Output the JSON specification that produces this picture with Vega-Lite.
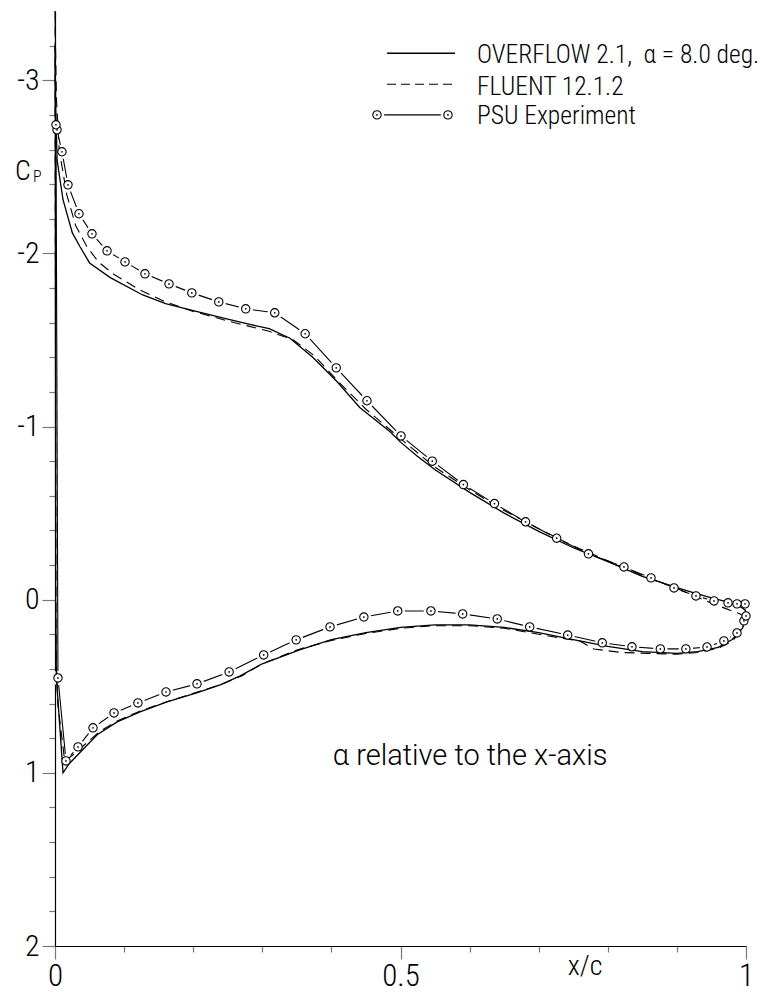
{
  "$schema": "https://vega.github.io/schema/vega-lite/v6.json",
  "width": 691,
  "height": 935,
  "autosize": {"type": "none"},
  "padding": {"left": 55, "top": 11, "right": 24, "bottom": 46},
  "background": "white",
  "config": {"view": {"stroke": null}, "font": "Roboto Condensed", "text": {"font": "Roboto Condensed"}},
  "datasets": {
    "overflow": [
      {"o":1,"x":1.0,"y":0.10},{"o":2,"x":0.999,"y":0.06},{"o":3,"x":0.99,"y":0.035},{"o":4,"x":0.97,"y":0.01},{"o":5,"x":0.95,"y":-0.01},{"o":6,"x":0.92,"y":-0.045},{"o":7,"x":0.9,"y":-0.07},{"o":8,"x":0.85,"y":-0.135},{"o":9,"x":0.8,"y":-0.22},{"o":10,"x":0.75,"y":-0.3},{"o":11,"x":0.7,"y":-0.395},{"o":12,"x":0.65,"y":-0.5},{"o":13,"x":0.6,"y":-0.62},{"o":14,"x":0.55,"y":-0.75},{"o":15,"x":0.524,"y":-0.83},{"o":16,"x":0.5,"y":-0.91},{"o":17,"x":0.485,"y":-0.97},{"o":18,"x":0.441,"y":-1.11},{"o":19,"x":0.408,"y":-1.26},{"o":20,"x":0.373,"y":-1.4},{"o":21,"x":0.34,"y":-1.51},{"o":22,"x":0.31,"y":-1.565},{"o":23,"x":0.282,"y":-1.59},{"o":24,"x":0.25,"y":-1.62},{"o":25,"x":0.2,"y":-1.67},{"o":26,"x":0.16,"y":-1.71},{"o":27,"x":0.127,"y":-1.76},{"o":28,"x":0.08,"y":-1.86},{"o":29,"x":0.05,"y":-1.945},{"o":30,"x":0.036,"y":-2.04},{"o":31,"x":0.025,"y":-2.12},{"o":32,"x":0.0116,"y":-2.31},{"o":33,"x":0.003,"y":-2.54},{"o":34,"x":0.001,"y":-2.85},{"o":35,"x":0.0,"y":-3.2},{"o":36,"x":0.0005,"y":-2.6},{"o":37,"x":0.001,"y":0.0},{"o":38,"x":0.002,"y":0.45},{"o":39,"x":0.0116,"y":1.0},{"o":40,"x":0.02,"y":0.95},{"o":41,"x":0.04,"y":0.867},{"o":42,"x":0.061,"y":0.78},{"o":43,"x":0.09,"y":0.706},{"o":44,"x":0.123,"y":0.648},{"o":45,"x":0.162,"y":0.59},{"o":46,"x":0.205,"y":0.538},{"o":47,"x":0.24,"y":0.49},{"o":48,"x":0.268,"y":0.44},{"o":49,"x":0.3,"y":0.37},{"o":50,"x":0.354,"y":0.29},{"o":51,"x":0.4,"y":0.23},{"o":52,"x":0.45,"y":0.19},{"o":53,"x":0.5,"y":0.16},{"o":54,"x":0.55,"y":0.145},{"o":55,"x":0.6,"y":0.145},{"o":56,"x":0.65,"y":0.16},{"o":57,"x":0.7,"y":0.19},{"o":58,"x":0.75,"y":0.23},{"o":59,"x":0.8,"y":0.27},{"o":60,"x":0.85,"y":0.3},{"o":61,"x":0.9,"y":0.31},{"o":62,"x":0.93,"y":0.3},{"o":63,"x":0.96,"y":0.275},{"o":64,"x":0.98,"y":0.23},{"o":65,"x":0.995,"y":0.165},{"o":66,"x":1.0,"y":0.1}
    ],
    "fluent": [
      {"o":1,"x":1.0,"y":0.10},{"o":2,"x":0.99,"y":0.08},{"o":3,"x":0.97,"y":0.05},{"o":4,"x":0.95,"y":0.02},{"o":5,"x":0.92,"y":-0.03},{"o":6,"x":0.9,"y":-0.065},{"o":7,"x":0.85,"y":-0.14},{"o":8,"x":0.8,"y":-0.225},{"o":9,"x":0.75,"y":-0.31},{"o":10,"x":0.7,"y":-0.41},{"o":11,"x":0.65,"y":-0.515},{"o":12,"x":0.6,"y":-0.635},{"o":13,"x":0.55,"y":-0.765},{"o":14,"x":0.5,"y":-0.93},{"o":15,"x":0.45,"y":-1.1},{"o":16,"x":0.41,"y":-1.26},{"o":17,"x":0.375,"y":-1.41},{"o":18,"x":0.345,"y":-1.5},{"o":19,"x":0.31,"y":-1.55},{"o":20,"x":0.28,"y":-1.58},{"o":21,"x":0.25,"y":-1.61},{"o":22,"x":0.2,"y":-1.665},{"o":23,"x":0.16,"y":-1.72},{"o":24,"x":0.12,"y":-1.795},{"o":25,"x":0.085,"y":-1.88},{"o":26,"x":0.063,"y":-1.95},{"o":27,"x":0.046,"y":-2.04},{"o":28,"x":0.03,"y":-2.16},{"o":29,"x":0.017,"y":-2.34},{"o":30,"x":0.006,"y":-2.6},{"o":31,"x":0.002,"y":-2.9},{"o":32,"x":0.0,"y":-3.4},{"o":33,"x":0.0015,"y":0.3},{"o":34,"x":0.004,"y":0.6},{"o":35,"x":0.014,"y":0.93},{"o":36,"x":0.025,"y":0.9},{"o":37,"x":0.045,"y":0.83},{"o":38,"x":0.065,"y":0.76},{"o":39,"x":0.09,"y":0.7},{"o":40,"x":0.125,"y":0.64},{"o":41,"x":0.165,"y":0.585},{"o":42,"x":0.205,"y":0.535},{"o":43,"x":0.24,"y":0.49},{"o":44,"x":0.27,"y":0.44},{"o":45,"x":0.3,"y":0.37},{"o":46,"x":0.35,"y":0.29},{"o":47,"x":0.4,"y":0.235},{"o":48,"x":0.45,"y":0.195},{"o":49,"x":0.5,"y":0.165},{"o":50,"x":0.55,"y":0.15},{"o":51,"x":0.6,"y":0.15},{"o":52,"x":0.65,"y":0.165},{"o":53,"x":0.7,"y":0.2},{"o":54,"x":0.76,"y":0.24},{"o":55,"x":0.78,"y":0.285},{"o":56,"x":0.82,"y":0.305},{"o":57,"x":0.86,"y":0.31},{"o":58,"x":0.9,"y":0.315},{"o":59,"x":0.93,"y":0.305},{"o":60,"x":0.96,"y":0.28},{"o":61,"x":0.98,"y":0.24},{"o":62,"x":0.995,"y":0.17},{"o":63,"x":1.0,"y":0.1}
    ],
    "psu": [
      {"o":1,"x":0.9986,"y":0.024},{"o":2,"x":0.987,"y":0.024},{"o":3,"x":0.974,"y":0.018},{"o":4,"x":0.9537,"y":0.007},{"o":5,"x":0.9276,"y":-0.022},{"o":6,"x":0.8958,"y":-0.068},{"o":7,"x":0.8625,"y":-0.126},{"o":8,"x":0.8234,"y":-0.189},{"o":9,"x":0.772,"y":-0.265},{"o":10,"x":0.726,"y":-0.355},{"o":11,"x":0.681,"y":-0.45},{"o":12,"x":0.636,"y":-0.555},{"o":13,"x":0.591,"y":-0.665},{"o":14,"x":0.546,"y":-0.8},{"o":15,"x":0.5007,"y":-0.946},{"o":16,"x":0.4515,"y":-1.149},{"o":17,"x":0.407,"y":-1.339},{"o":18,"x":0.362,"y":-1.536},{"o":19,"x":0.318,"y":-1.657},{"o":20,"x":0.276,"y":-1.68},{"o":21,"x":0.237,"y":-1.72},{"o":22,"x":0.198,"y":-1.772},{"o":23,"x":0.165,"y":-1.824},{"o":24,"x":0.1302,"y":-1.882},{"o":25,"x":0.1013,"y":-1.951},{"o":26,"x":0.0753,"y":-2.015},{"o":27,"x":0.0535,"y":-2.113},{"o":28,"x":0.0347,"y":-2.229},{"o":29,"x":0.0188,"y":-2.396},{"o":30,"x":0.0101,"y":-2.587},{"o":31,"x":0.0029,"y":-2.714},{"o":32,"x":0.0014,"y":-2.743},{"o":33,"x":0.0043,"y":0.452},{"o":34,"x":0.0159,"y":0.931},{"o":35,"x":0.0333,"y":0.85},{"o":36,"x":0.055,"y":0.74},{"o":37,"x":0.0854,"y":0.654},{"o":38,"x":0.12,"y":0.596},{"o":39,"x":0.1606,"y":0.533},{"o":40,"x":0.2055,"y":0.486},{"o":41,"x":0.252,"y":0.417},{"o":42,"x":0.302,"y":0.319},{"o":43,"x":0.349,"y":0.232},{"o":44,"x":0.398,"y":0.157},{"o":45,"x":0.447,"y":0.1},{"o":46,"x":0.496,"y":0.065},{"o":47,"x":0.544,"y":0.065},{"o":48,"x":0.59,"y":0.082},{"o":49,"x":0.64,"y":0.111},{"o":50,"x":0.687,"y":0.157},{"o":51,"x":0.742,"y":0.204},{"o":52,"x":0.792,"y":0.249},{"o":53,"x":0.835,"y":0.272},{"o":54,"x":0.876,"y":0.284},{"o":55,"x":0.913,"y":0.284},{"o":56,"x":0.9436,"y":0.273},{"o":57,"x":0.968,"y":0.238},{"o":58,"x":0.987,"y":0.192},{"o":59,"x":0.997,"y":0.122},{"o":60,"x":1.0,"y":0.094}
    ],
    "legline": [
      {"s":"ov","o":1,"x":0.4805,"y":-3.156},{"s":"ov","o":2,"x":0.5789,"y":-3.156},
      {"s":"fl","o":1,"x":0.4805,"y":-2.977},{"s":"fl","o":2,"x":0.5789,"y":-2.977},
      {"s":"psu","o":1,"x":0.466,"y":-2.8},{"s":"psu","o":2,"x":0.5687,"y":-2.8}
    ],
    "legpts": [
      {"x":0.466,"y":-2.8},{"x":0.5687,"y":-2.8}
    ],
    "legtext": [
      {"x":0.6107,"y":-3.1,"t":"OVERFLOW 2.1,\u00a0 α = 8.0 deg."},
      {"x":0.6107,"y":-2.915,"t":"FLUENT 12.1.2"},
      {"x":0.6107,"y":-2.747,"t":"PSU Experiment"}
    ],
    "annot": [
      {"x":0.402,"y":0.955,"t":"α  relative to the x-axis"}
    ],
    "big": [
      {"x":-0.0579,"y":-2.424,"t":"C"},
      {"x":0.742,"y":2.168,"t":"x/c"}
    ],
    "sub": [
      {"x":-0.0318,"y":-2.413,"t":"P"}
    ]
  },
  "encoding": {
    "x": {
      "field": "x", "type": "quantitative",
      "scale": {"domain": [0, 1], "nice": false, "zero": false},
      "axis": {
        "values": [0, 0.1, 0.2, 0.3, 0.4, 0.5, 0.6, 0.7, 0.8, 0.9, 1],
        "format": "~g",
        "labelExpr": "abs(datum.value*2-round(datum.value*2))<0.001 ? datum.label : ''",
        "tickSize": {"condition": {"test": "abs(datum.value*2-round(datum.value*2))<0.001", "value": 13}, "value": 6},
        "title": null, "grid": false,
        "domainColor": "black", "domainWidth": 1.2,
        "tickColor": "#777", "tickWidth": 1.2,
        "labelFontSize": 31, "labelFontWeight": 300, "labelPadding": 2, "labelFlush": false, "labelOverlap": false, "labelColor": "black",
        "labelFont": "Roboto Condensed"
      }
    },
    "y": {
      "field": "y", "type": "quantitative",
      "scale": {"domain": [-3.4, 2], "reverse": true, "nice": false, "zero": false},
      "axis": {
        "values": [-3.2, -3, -2.8, -2.6, -2.4, -2.2, -2, -1.8, -1.6, -1.4, -1.2, -1, -0.8, -0.6, -0.4, -0.2, 0, 0.2, 0.4, 0.6, 0.8, 1, 1.2, 1.4, 1.6, 1.8, 2],
        "labelExpr": "abs(datum.value-round(datum.value))<0.001 ? ''+round(datum.value) : ''",
        "tickSize": {"condition": {"test": "abs(datum.value-round(datum.value))<0.001", "value": 13}, "value": 6},
        "title": null, "grid": false,
        "domainColor": "black", "domainWidth": 1.2,
        "tickColor": "#777", "tickWidth": 1.2,
        "labelFontSize": 30, "labelFontWeight": 300, "labelPadding": 3, "labelFlush": false, "labelOverlap": false, "labelColor": "black",
        "labelFont": "Roboto Condensed"
      }
    }
  },
  "layer": [
    {"data": {"name": "psu"}, "mark": {"type": "line", "stroke": "black", "strokeWidth": 1.1}, "encoding": {"order": {"field": "o", "type": "quantitative"}}},
    {"data": {"name": "psu"}, "mark": {"type": "point", "shape": "circle", "filled": true, "fill": "white", "opacity": 1, "size": 210, "strokeWidth": 0}},
    {"data": {"name": "overflow"}, "mark": {"type": "line", "stroke": "black", "strokeWidth": 1.3}, "encoding": {"order": {"field": "o", "type": "quantitative"}}},
    {"data": {"name": "fluent"}, "mark": {"type": "line", "stroke": "black", "strokeWidth": 1.1, "strokeDash": [10, 6]}, "encoding": {"order": {"field": "o", "type": "quantitative"}}},
    {"data": {"name": "psu"}, "mark": {"type": "point", "shape": "circle", "filled": false, "fill": "white", "fillOpacity": 1, "stroke": "black", "opacity": 1, "size": 70, "strokeWidth": 1.1}},
    {"data": {"name": "psu"}, "mark": {"type": "point", "shape": "circle", "filled": true, "color": "black", "opacity": 1, "size": 3}},
    {"data": {"name": "legline"}, "transform": [{"filter": "datum.s == 'ov'"}], "mark": {"type": "line", "stroke": "black", "strokeWidth": 1.3}, "encoding": {"order": {"field": "o", "type": "quantitative"}}},
    {"data": {"name": "legline"}, "transform": [{"filter": "datum.s == 'fl'"}], "mark": {"type": "line", "stroke": "black", "strokeWidth": 1.1, "strokeDash": [9, 5]}, "encoding": {"order": {"field": "o", "type": "quantitative"}}},
    {"data": {"name": "legline"}, "transform": [{"filter": "datum.s == 'psu'"}], "mark": {"type": "line", "stroke": "black", "strokeWidth": 1.1}, "encoding": {"order": {"field": "o", "type": "quantitative"}}},
    {"data": {"name": "legpts"}, "mark": {"type": "point", "shape": "circle", "filled": true, "fill": "white", "opacity": 1, "size": 210, "strokeWidth": 0}},
    {"data": {"name": "legpts"}, "mark": {"type": "point", "shape": "circle", "filled": false, "fill": "white", "fillOpacity": 1, "stroke": "black", "opacity": 1, "size": 70, "strokeWidth": 1.1}},
    {"data": {"name": "legpts"}, "mark": {"type": "point", "shape": "circle", "filled": true, "color": "black", "opacity": 1, "size": 3}},
    {"data": {"name": "legtext"}, "mark": {"type": "text", "align": "left", "baseline": "alphabetic", "fontSize": 25.5, "fontWeight": 300, "color": "black", "font": "Roboto Condensed"}, "encoding": {"text": {"field": "t"}}},
    {"data": {"name": "annot"}, "mark": {"type": "text", "align": "left", "baseline": "alphabetic", "fontSize": 29, "fontWeight": 300, "color": "black", "font": "Roboto"}, "encoding": {"text": {"field": "t"}}},
    {"data": {"name": "big"}, "mark": {"type": "text", "align": "left", "baseline": "alphabetic", "fontSize": 28, "fontWeight": 300, "color": "black", "font": "Roboto Condensed"}, "encoding": {"text": {"field": "t"}}},
    {"data": {"name": "sub"}, "mark": {"type": "text", "align": "left", "baseline": "alphabetic", "fontSize": 16, "fontWeight": 300, "color": "black", "font": "Roboto Condensed"}, "encoding": {"text": {"field": "t"}}}
  ]
}
